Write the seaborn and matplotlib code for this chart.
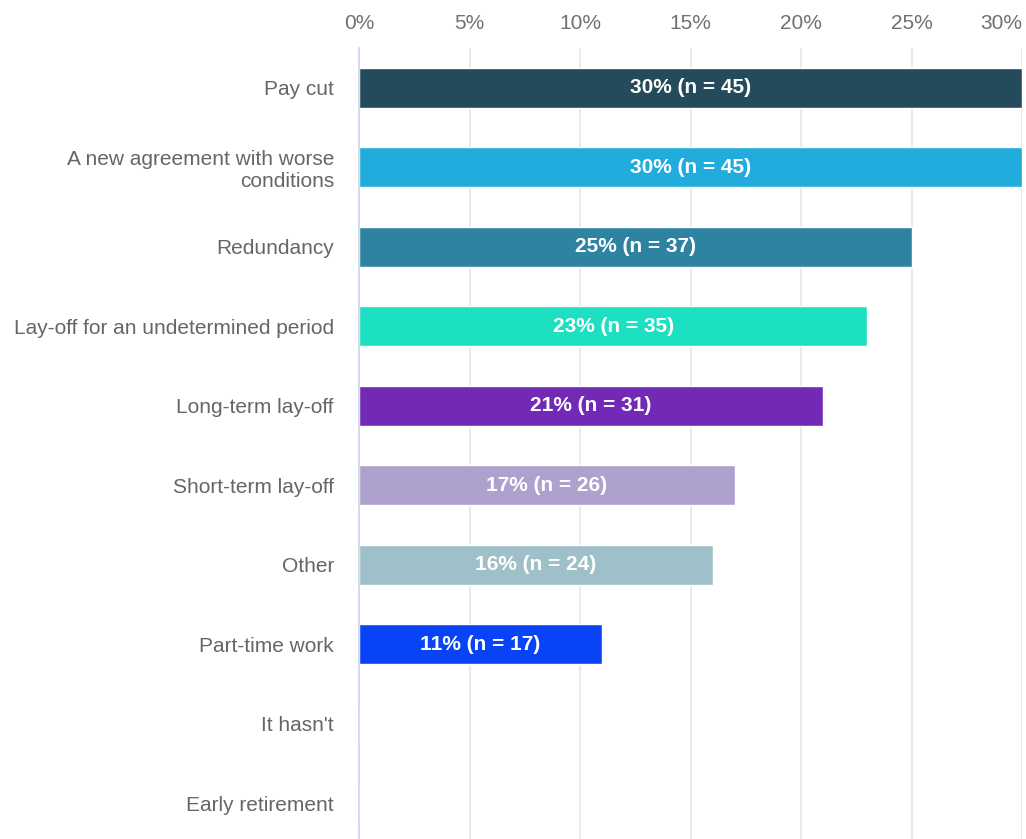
import matplotlib
matplotlib.use("Agg")
import matplotlib.pyplot as plt
import seaborn as sns
import pandas as pd
from matplotlib.ticker import FixedLocator

# Reasons reported and share of respondents (percent) with counts
categories = [
    "Pay cut",
    "A new agreement with worse\nconditions",
    "Redundancy",
    "Lay-off for an undetermined period",
    "Long-term lay-off",
    "Short-term lay-off",
    "Other",
    "Part-time work",
    "It hasn't",
    "Early retirement",
]
percent = [30, 30, 25, 23, 21, 17, 16, 11, 0, 0]
counts = [45, 45, 37, 35, 31, 26, 24, 17, 0, 0]
bar_colors = [
    "#234b5b", "#20acdc", "#2e83a1", "#1ddfc2", "#7229b5",
    "#aea1cd", "#a0c0c9", "#0844f5", "#cccccc", "#cccccc",
]
tick_values = [0, 5, 10, 15, 20, 25, 30]
tick_labels = ["0%", "5%", "10%", "15%", "20%", "25%", "30%"]

sns.set_theme(style="white")
plt.rcParams["font.family"] = ["Liberation Sans", "DejaVu Sans"]

df = pd.DataFrame({"category": categories, "percent": percent, "n": counts})

fig = plt.figure(figsize=(10.26, 8.39), dpi=100)
ax = fig.add_axes([359 / 1026, -4 / 839, (1022 - 359) / 1026, (843 - 48) / 839])

sns.barplot(
    data=df, x="percent", y="category", hue="category",
    palette=bar_colors, saturation=1, legend=False, width=0.5,
    edgecolor="white", linewidth=1, ax=ax, orient="h", zorder=3,
)

ax.set_xlim(0, 30)
ax.set_ylim(len(categories) - 0.5, -0.5)
ax.xaxis.tick_top()
ax.xaxis.set_major_locator(FixedLocator(tick_values))
ax.set_xticklabels(tick_labels)
ax.tick_params(axis="x", length=0, pad=11, labelsize=15, labelcolor="#707070")
ax.tick_params(axis="y", length=0, pad=18, labelsize=15, labelcolor="#666666")
for lbl in ax.get_yticklabels():
    lbl.set_horizontalalignment("right")
    lbl.set_multialignment("right")
xt = ax.get_xticklabels()
xt[-1].set_horizontalalignment("right")

ax.set_xlabel("")
ax.set_ylabel("")
ax.grid(axis="x", color="#e6e6e6", linewidth=1.2, zorder=0)
ax.grid(axis="y", visible=False)
for side in ["top", "right", "bottom"]:
    ax.spines[side].set_visible(False)
ax.spines["left"].set_color("#ccd6eb")
ax.spines["left"].set_linewidth(1.2)
ax.spines["left"].set_zorder(4)

# Value labels centred inside each bar
for i, (p, n) in enumerate(zip(percent, counts)):
    if p > 0:
        ax.text(p / 2, i, f"{p}% (n = {n})", ha="center", va="center",
                color="white", fontsize=15, fontweight="bold", zorder=5)

fig.savefig("out.png", dpi=100)
